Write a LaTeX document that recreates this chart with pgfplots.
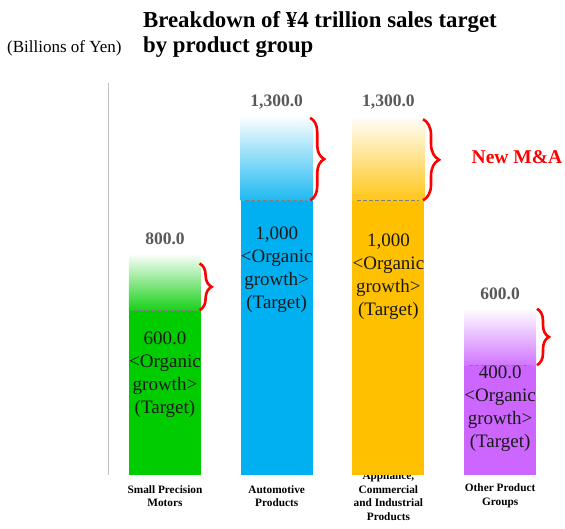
\documentclass[border=0pt]{standalone}
\usepackage{pgfplots}
\pgfplotsset{compat=1.18}
\usepackage{fontspec}
\setmainfont{Liberation Serif}
\usetikzlibrary{decorations.pathreplacing}
\definecolor{cgreen}{HTML}{00CC00}
\definecolor{cblue}{HTML}{00B0F0}
\definecolor{corange}{HTML}{FFC000}
\definecolor{cpurple}{HTML}{CC66FF}
\definecolor{lblgray}{HTML}{595959}
\begin{document}
\begin{tikzpicture}[x=1pt,y=1pt]
\useasboundingbox (0,0) rectangle (565,528);
\node[anchor=base west, font=\bfseries\fontsize{22.8}{25}\selectfont, inner sep=0] at (143,500) {Breakdown of ¥4 trillion sales target};
\node[anchor=base west, font=\bfseries\fontsize{22.8}{25}\selectfont, inner sep=0] at (143,475.5) {by product group};
\node[anchor=base west, font=\fontsize{17}{18}\selectfont, inner sep=0] at (7,475.5) {(Billions of Yen)};
\begin{axis}[
  at={(108pt,53pt)}, anchor=south west, scale only axis,
  width=452pt, height=392pt,
  xmin=-0.51, xmax=3.536, ymin=0, ymax=1427,
  axis lines*=left,
  x axis line style={draw=none},
  y axis line style={color=black!25, line width=0.8pt},
  ytick=\empty,
  xtick={0,1,2,3},
  xticklabels={{Small Precision\\Motors},{Automotive\\Products},{Appliance,\\Commercial\\and Industrial\\Products},{Other Product\\Groups}},
  major tick length=0pt,
  xticklabel style={align=center, anchor=center, yshift=-21pt, font=\bfseries\fontsize{11.3}{13.5}\selectfont},
  clip=false,
]
% organic (solid) bars
\addplot[ybar, bar width=72pt, bar shift=0pt, fill=cgreen, draw=none] coordinates {(0,600)};
\addplot[ybar, bar width=72pt, bar shift=0pt, fill=cblue, draw=none] coordinates {(1,1000)};
\addplot[ybar, bar width=72pt, bar shift=0pt, fill=corange, draw=none] coordinates {(2,1000)};
\addplot[ybar, bar width=72pt, bar shift=0pt, fill=cpurple, draw=none] coordinates {(3,400)};
% new M&A (gradient) parts
\addplot[draw=none, mark=none, top color=cgreen!3!white, bottom color=cgreen!90!white] coordinates {(-0.3223,600) (-0.3223,800) (0.3223,800) (0.3223,600)} -- cycle;
\addplot[draw=none, mark=none, top color=cblue!3!white, bottom color=cblue!88!white] coordinates {(0.6777,1000) (0.6777,1300) (1.3223,1300) (1.3223,1000)} -- cycle;
\addplot[draw=none, mark=none, top color=corange!3!white, bottom color=corange!90!white] coordinates {(1.6777,1000) (1.6777,1300) (2.3223,1300) (2.3223,1000)} -- cycle;
\addplot[draw=none, mark=none, top color=cpurple!3!white, bottom color=cpurple!90!white] coordinates {(2.6777,400) (2.6777,600) (3.3223,600) (3.3223,400)} -- cycle;
% dashed organic lines
\addplot[black!50, mark=none, dash pattern=on 4pt off 2pt, line width=0.9pt] coordinates {(-0.28,600) (0.26,600)};
\addplot[black!50, mark=none, dash pattern=on 4pt off 2pt, line width=0.9pt] coordinates {(0.72,1000) (1.27,1000)};
\addplot[black!50, mark=none, dash pattern=on 4pt off 2pt, line width=0.9pt] coordinates {(1.72,1000) (2.27,1000)};
\addplot[black!50, mark=none, dash pattern=on 4pt off 2pt, line width=0.9pt] coordinates {(2.72,400) (3.27,400)};
% braces
\draw[red, line width=2.6pt, decorate, decoration={brace, amplitude=12pt}] (axis cs:0.31,770) -- (axis cs:0.31,600);
\draw[red, line width=2.6pt, decorate, decoration={brace, amplitude=14pt}] (axis cs:1.30,1300) -- (axis cs:1.30,1000);
\draw[red, line width=2.6pt, decorate, decoration={brace, amplitude=16pt}] (axis cs:2.31,1295) -- (axis cs:2.31,1000);
\draw[red, line width=2.6pt, decorate, decoration={brace, amplitude=12pt}] (axis cs:3.33,605) -- (axis cs:3.33,400);
\node[red, font=\bfseries\fontsize{19.5}{20}\selectfont] at (axis cs:3.15,1158) {New M\&A};
% total labels
\node[anchor=base, lblgray, yshift=11pt, font=\bfseries\fontsize{17.5}{18}\selectfont] at (axis cs:0,800) {800.0};
\node[anchor=base, lblgray, yshift=11pt, font=\bfseries\fontsize{17.5}{18}\selectfont] at (axis cs:1,1300) {1,300.0};
\node[anchor=base, lblgray, yshift=11pt, font=\bfseries\fontsize{17.5}{18}\selectfont] at (axis cs:2,1300) {1,300.0};
\node[anchor=base, lblgray, yshift=11pt, font=\bfseries\fontsize{17.5}{18}\selectfont] at (axis cs:3,600) {600.0};
% organic labels
\node[align=center, text=black!90, font=\fontsize{19}{23}\selectfont] at (axis cs:0,366) {600.0\\<Organic\\growth>\\(Target)};
\node[align=center, text=black!90, font=\fontsize{19}{23}\selectfont] at (axis cs:1,746) {1,000\\<Organic\\growth>\\(Target)};
\node[align=center, text=black!90, font=\fontsize{19}{23}\selectfont] at (axis cs:2,723) {1,000\\<Organic\\growth>\\(Target)};
\node[align=center, text=black!90, font=\fontsize{19}{23}\selectfont] at (axis cs:3,240) {400.0\\<Organic\\growth>\\(Target)};
\end{axis}
\end{tikzpicture}
\end{document}
